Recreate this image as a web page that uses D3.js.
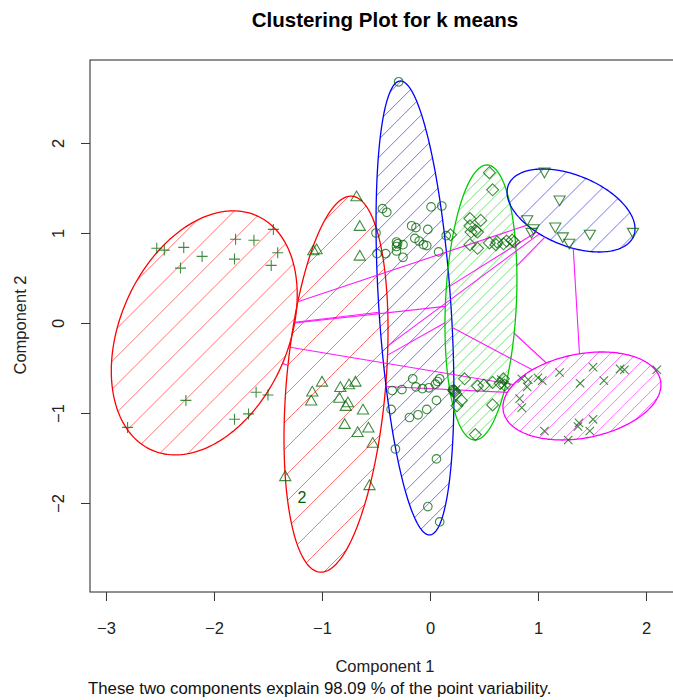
<!DOCTYPE html>
<html>
<head>
<meta charset="utf-8">
<script src="https://cdn.jsdelivr.net/npm/d3@7"></script>
<style>
  body { margin: 0; background: #fff; }
  svg { display: block; font-family: "Liberation Sans", Arial, sans-serif; }
</style>
</head>
<body>
<div id="chart"></div>
<script>
const width = 673, height = 700;
const margin = {top: 60, right: -7, bottom: 108, left: 90};

// tick labels
const xTicks = [-3, -2, -1, 0, 1, 2];
const yTicks = [-2, -1, 0, 1, 2];

// cluster ellipses: centre and covariance (sxx, sxy, syy)
const ellipseCentres = [[-2.09, -0.11], [-0.87, -0.68], [-0.139, 0.167], [0.472, 0.228], [1.306, 1.25], [1.407, -0.811]];
const ellipseCov = [[0.741, 0.364, 1.838], [0.232, 0.290, 4.364], [0.130, -0.339, 6.361], [0.111, 0.085, 2.334], [0.351, -0.12, 0.2126], [0.535, 0.0905, 0.239]];

// observations per cluster
const plusPts = [[-2.53,0.83],[-2.46,0.81],[-2.28,0.84],[-2.11,0.74],[-2.31,0.61],[-1.80,0.93],[-1.63,0.92],[-1.81,0.71],[-1.45,1.04],[-1.41,0.78],[-1.47,0.64],[-2.26,-0.86],[-2.80,-1.16],[-1.61,-0.77],[-1.50,-0.80],[-1.81,-1.07],[-1.68,-1.01]];
const triPts = [[-0.68,1.40],[-0.65,1.07],[-1.08,0.80],[-1.05,0.81],[-0.65,0.74],[-1.00,-0.66],[-1.09,-0.77],[-1.10,-0.87],[-0.83,-0.72],[-0.75,-0.69],[-0.69,-0.66],[-0.84,-0.84],[-0.76,-0.89],[-0.78,-0.93],[-0.62,-0.97],[-0.79,-1.13],[-0.67,-1.22],[-0.57,-1.17],[-0.53,-1.34],[-1.34,-1.71],[-0.56,-1.81]];
const circlePts = [[-0.29,2.68],[-0.44,1.27],[-0.40,1.23],[0.01,1.29],[0.11,1.30],[-0.50,1.00],[-0.17,1.08],[-0.13,1.06],[-0.02,1.04],[-0.31,0.90],[-0.30,0.88],[-0.31,0.85],[-0.25,0.87],[-0.14,0.94],[-0.10,0.91],[-0.06,0.87],[-0.03,0.86],[-0.49,0.77],[-0.41,0.77],[-0.31,0.80],[-0.25,0.73],[0.08,0.79],[0.15,0.97],
  [-0.16,-0.62],[-0.35,-0.75],[-0.26,-0.74],[-0.13,-0.71],[-0.07,-0.73],[-0.01,-0.72],[0.05,-0.68],[0.07,-0.65],[0.09,-0.62],[0.06,-0.86],[-0.36,-0.96],[-0.19,-1.05],[-0.11,-1.02],[-0.03,-0.96],[-0.32,-1.40],[0.06,-1.51],[-0.02,-2.04],[0.09,-2.21],[0.21,-0.74]];
const diamondPts = [[0.55,1.67],[0.58,1.48],[0.37,1.16],[0.47,1.14],[0.37,1.08],[0.42,1.03],[0.44,1.01],[0.38,1.01],[0.19,0.98],[0.37,0.87],[0.44,0.83],[0.55,0.89],[0.62,0.90],[0.61,0.87],[0.68,0.88],[0.71,0.91],[0.76,0.92],[0.78,0.90],
  [0.32,-0.62],[0.44,-0.70],[0.50,-0.69],[0.58,-0.66],[0.65,-0.67],[0.68,-0.62],[0.69,-0.69],[0.22,-0.75],[0.24,-0.79],[0.29,-0.86],[0.25,-0.92],[0.58,-0.91],[0.42,-1.24],[0.23,-0.76]];
const downTriPts = [[1.06,1.68],[1.20,1.37],[0.90,1.15],[0.96,1.05],[0.94,1.01],[1.16,1.07],[1.23,0.96],[1.29,0.89],[1.48,0.99],[1.88,1.01]];
const crossPts = [[2.10,-0.52],[1.76,-0.51],[1.80,-0.52],[1.51,-0.49],[1.20,-0.55],[1.39,-0.67],[1.61,-0.64],[0.85,-0.62],[0.91,-0.63],[1.00,-0.61],[1.04,-0.64],[0.90,-0.71],[0.83,-0.84],[0.85,-0.94],[1.06,-1.20],[1.28,-1.30],[1.38,-1.11],[1.51,-1.07],[1.37,-1.15],[1.48,-1.20],[0.66,-0.63],[0.69,-0.69],[0.24,-0.74]];
const clusterLabels = [{text: '2', x: -1.185, y: -1.93}];

const pointSets = [
  {pts: plusPts, shape: 'plus'},
  {pts: triPts, shape: 'tri'},
  {pts: circlePts, shape: 'circle'},
  {pts: diamondPts, shape: 'diamond'},
  {pts: downTriPts, shape: 'down'},
  {pts: crossPts, shape: 'cross'}
];

const ellipseColours = ['#ff0000', '#ff0000', '#0000ff', '#00cc00', '#0000ff', '#ff00ff'];
const hatchGap = [28, 27, 18, 11, 26, 13];
const pointColour = '#006400';
const textColour = '#222';

const x = d3.scaleLinear().domain([-3.148, 2.315]).range([margin.left, width - margin.right]);
const y = d3.scaleLinear().domain([-2.989, 2.922]).range([height - margin.bottom, margin.top]);

const svg = d3.select('#chart').append('svg')
  .attr('width', width)
  .attr('height', height)
  .attr('viewBox', [0, 0, width, height]);

const defs = svg.append('defs');

// ellipse boundary in data space via Cholesky factor of the covariance
function ellipseData(i) {
  const [cx, cy] = ellipseCentres[i];
  const [sxx, sxy, syy] = ellipseCov[i];
  const l11 = Math.sqrt(sxx), l21 = sxy / l11, l22 = Math.sqrt(syy - l21 * l21);
  return d3.range(0, 201).map(k => {
    const t = k / 200 * 2 * Math.PI;
    return [cx + l11 * Math.cos(t), cy + l21 * Math.cos(t) + l22 * Math.sin(t)];
  });
}

const line = d3.line().x(d => x(d[0])).y(d => y(d[1]));

const plotClip = defs.append('clipPath').attr('id', 'plot-clip');
plotClip.append('rect')
  .attr('x', margin.left).attr('y', margin.top)
  .attr('width', width - margin.right - margin.left)
  .attr('height', height - margin.bottom - margin.top);

const plot = svg.append('g').attr('clip-path', 'url(#plot-clip)');

// shaded ellipses
ellipseCentres.forEach((c, i) => {
  const pts = ellipseData(i);
  const px = pts.map(p => [x(p[0]), y(p[1])]);
  defs.append('clipPath').attr('id', `ell-${i}`)
    .append('path').attr('d', line(pts) + 'Z');

  const minX = d3.min(px, p => p[0]), maxX = d3.max(px, p => p[0]);
  const minY = d3.min(px, p => p[1]), maxY = d3.max(px, p => p[1]);
  const ks = d3.range(minX + minY + hatchGap[i] * 0.4, maxX + maxY, hatchGap[i]);

  const g = plot.append('g').attr('clip-path', `url(#ell-${i})`);
  g.selectAll('line')
    .data(ks)
    .join('line')
      .attr('x1', k => k - maxY).attr('y1', maxY)
      .attr('x2', k => k - minY).attr('y2', minY)
      .attr('stroke', ellipseColours[i])
      .attr('stroke-opacity', 0.55)
      .attr('stroke-width', 1);

  plot.append('path')
    .attr('d', line(pts) + 'Z')
    .attr('fill', 'none')
    .attr('stroke', ellipseColours[i])
    .attr('stroke-width', 1.3);
});

// distance lines between non-overlapping ellipses
function radiusAlong(i, ux, uy) {
  const [sxx, sxy, syy] = ellipseCov[i];
  const det = sxx * syy - sxy * sxy;
  const q = (syy * ux * ux - 2 * sxy * ux * uy + sxx * uy * uy) / det;
  return 1 / Math.sqrt(q);
}
const segments = [];
for (let i = 0; i < ellipseCentres.length; i++) {
  for (let j = i + 1; j < ellipseCentres.length; j++) {
    const [ax, ay] = ellipseCentres[i], [bx, by] = ellipseCentres[j];
    const dx = bx - ax, dy = by - ay, dist = Math.hypot(dx, dy);
    const ux = dx / dist, uy = dy / dist;
    const ri = radiusAlong(i, ux, uy), rj = radiusAlong(j, ux, uy);
    if (dist > ri + rj) {
      segments.push([[ax + ri * ux, ay + ri * uy], [bx - rj * ux, by - rj * uy]]);
    }
  }
}
plot.selectAll('path.dist')
  .data(segments)
  .join('path')
    .attr('class', 'dist')
    .attr('d', d => line(d))
    .attr('fill', 'none')
    .attr('stroke', '#ff00ff')
    .attr('stroke-opacity', 0.9)
    .attr('stroke-width', 1.1);

// point symbols
const shapes = {
  plus: 'M-5.5,0H5.5M0,-5.5V5.5',
  cross: 'M-4.2,-4.2L4.2,4.2M-4.2,4.2L4.2,-4.2',
  tri: 'M0,-6L5.6,3.7L-5.6,3.7Z',
  down: 'M0,6L5.6,-3.7L-5.6,-3.7Z',
  diamond: 'M0,-6L6,0L0,6L-6,0Z',
  circle: 'M4.3,0A4.3,4.3 0 1,1 -4.3,0A4.3,4.3 0 1,1 4.3,0Z'
};
pointSets.forEach(set => {
  plot.append('g').selectAll('path')
    .data(set.pts)
    .join('path')
      .attr('transform', d => `translate(${x(d[0])},${y(d[1])})`)
      .attr('d', shapes[set.shape])
      .attr('fill', 'none')
      .attr('stroke', pointColour)
      .attr('stroke-opacity', 0.75)
      .attr('stroke-width', 1.1);
});

plot.selectAll('text.lab')
  .data(clusterLabels)
  .join('text')
    .attr('class', 'lab')
    .attr('x', d => x(d.x))
    .attr('y', d => y(d.y) + 6)
    .attr('text-anchor', 'middle')
    .attr('font-size', 16)
    .attr('fill', pointColour)
    .text(d => d.text);

// frame
svg.append('rect')
  .attr('x', margin.left).attr('y', margin.top)
  .attr('width', width - margin.right - margin.left)
  .attr('height', height - margin.bottom - margin.top)
  .attr('fill', 'none')
  .attr('stroke', '#222')
  .attr('stroke-width', 1);

// axes
const xAxis = d3.axisBottom(x).tickValues(xTicks).tickSize(9).tickPadding(21).tickFormat(d3.format('d'));
const yAxis = d3.axisLeft(y).tickValues(yTicks).tickSize(9).tickPadding(18).tickFormat(d3.format('d'));

const gx = svg.append('g')
  .attr('transform', `translate(0,${height - margin.bottom})`)
  .call(xAxis);
const gy = svg.append('g')
  .attr('transform', `translate(${margin.left},0)`)
  .call(yAxis);

svg.selectAll('path.domain').remove();
svg.selectAll('.tick line').attr('stroke', '#333');
svg.selectAll('.tick text').attr('font-size', 16.5).attr('fill', textColour)
  .attr('font-family', '"Liberation Sans", Arial, sans-serif');
gy.selectAll('.tick text')
  .attr('x', 0).attr('dy', 0)
  .attr('text-anchor', 'middle')
  .attr('transform', 'translate(-32,0) rotate(-90) translate(0,6)');

svg.append('text')
  .attr('x', (margin.left + width - margin.right) / 2)
  .attr('y', 27)
  .attr('text-anchor', 'middle')
  .attr('font-size', 20.5)
  .attr('font-weight', 'bold')
  .text('Clustering Plot for k means');

svg.append('text')
  .attr('x', (margin.left + width - margin.right) / 2)
  .attr('y', 672)
  .attr('text-anchor', 'middle')
  .attr('font-size', 16.5)
  .attr('fill', textColour)
  .text('Component 1');

svg.append('text')
  .attr('transform', 'translate(26,325) rotate(-90)')
  .attr('text-anchor', 'middle')
  .attr('font-size', 16.5)
  .attr('fill', textColour)
  .text('Component 2');

svg.append('text')
  .attr('x', 88)
  .attr('y', 694)
  .attr('font-size', 16.8)
  .attr('fill', '#111')
  .text('These two components explain 98.09 % of the point variability.');
</script>
</body>
</html>
